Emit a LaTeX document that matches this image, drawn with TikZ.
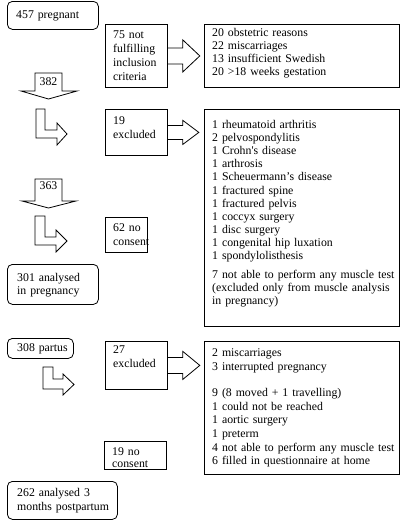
\documentclass[tikz,border=0pt]{standalone}
\usepackage{fontspec}
\setmainfont{Liberation Serif}
\usetikzlibrary{calc}
\begin{document}
\begin{tikzpicture}[x=1pt,y=-1pt,
  box/.style={draw, line width=0.8pt, rectangle, inner sep=0pt, anchor=north west},
  rbox/.style={box, rounded corners=5pt},
  txt/.style={inner sep=0pt, anchor=base west, align=left, text width=#1,
    font=\fontsize{11.8}{14}\selectfont},
  txt/.default=60pt,
  arr/.style={draw, line width=0.8pt, line join=miter}]
\useasboundingbox (0,0) rectangle (418,520);
% boxes
\node[rbox, minimum width=91pt, minimum height=28pt] (b457) at (7,1) {};
\node[box, minimum width=62pt, minimum height=63pt] (b75) at (105,24) {};
\node[box, minimum width=195pt, minimum height=63pt] (l1) at (204,24) {};
\node[box, minimum width=62pt, minimum height=46pt] (b19) at (105,109) {};
\node[box, minimum width=195pt, minimum height=217pt] (l2) at (204,109) {};
\node[box, minimum width=42pt, minimum height=35pt] (b62) at (105,217) {};
\node[rbox, minimum width=91pt, minimum height=40pt] (b301) at (7,264) {};
\node[rbox, minimum width=66pt, minimum height=20pt] (b308) at (7,338) {};
\node[box, minimum width=62pt, minimum height=48pt] (b27) at (105,341) {};
\node[box, minimum width=195pt, minimum height=133pt] (l3) at (204,341) {};
\node[box, minimum width=62pt, minimum height=28pt] (b19n) at (104,441) {};
\node[rbox, minimum width=110pt, minimum height=38pt] (b262) at (7,481) {};
% texts
\node[txt=80pt] (t457) at (16,18.5) {457 pregnant};
\node[txt] (t75) at (113,38.5) {75 not\\fulfilling\\inclusion\\criteria};
\node[txt=190pt, font=\fontsize{11.8}{13}\selectfont] (tl1) at (212,36.5) {20 obstetric reasons\\22 miscarriages\\13 insufficient Swedish\\20 >18 weeks gestation};
\node[txt] (t19) at (113,124.5) {19\\excluded};
\node[txt=190pt, font=\fontsize{11.8}{13.1}\selectfont] (tl2) at (212,128.5) {1 rheumatoid arthritis\\2 pelvospondylitis\\1 Crohn\textquotesingle s disease\\1 arthrosis\\1 Scheuermann’s disease\\1 fractured spine\\1 fractured pelvis\\1 coccyx surgery\\1 disc surgery\\1 congenital hip luxation\\1 spondylolisthesis\\[6pt]7 not able to perform any muscle test\\(excluded only from muscle analysis\\in pregnancy)};
\node[txt] (t62) at (113,231.5) {62 no\\consent};
\node[txt=85pt, font=\fontsize{11.8}{13}\selectfont] (t301) at (17,281.5) {301 analysed\\in pregnancy};
\node[txt] (t308) at (17,351.5) {308 partus};
\node[txt] (t27) at (113,353.5) {27\\excluded};
\node[txt=190pt, font=\fontsize{11.8}{13.6}\selectfont] (tl3) at (212,356.5) {2 miscarriages\\3 interrupted pregnancy\\[13pt]9 (8 moved + 1 travelling)\\1 could not be reached\\1 aortic surgery\\1 preterm\\4 not able to perform any muscle test\\6 filled in questionnaire at home};
\node[txt, font=\fontsize{11.8}{12}\selectfont] (t19n) at (112,455) {19 no\\consent};
\node[txt=105pt] (t262) at (17,496.5) {262 analysed 3\\months postpartum};
% down arrows
\draw[arr] (35,73) -- (62,73) -- (62,91) -- (77,91) -- (48.5,99) -- (21,91) -- (35,91) -- cycle;
\node[inner sep=0pt, font=\fontsize{11.8}{13}\selectfont] (n382) at (48.5,81.5) {382};
\draw[arr] (35,179) -- (62,179) -- (62,201) -- (76,201) -- (48.5,208) -- (22,201) -- (35,201) -- cycle;
\node[inner sep=0pt, font=\fontsize{11.8}{13}\selectfont] (n363) at (48.5,186) {363};
% L arrows
\draw[arr] (36,109) -- (36,138) -- (57,138) -- (57,145) -- (67,134) -- (57,123) -- (57,130) -- (45,130) -- (45,109) -- cycle;
\draw[arr] (35,216) -- (35,245) -- (56,245) -- (56,252) -- (67,241) -- (56,230) -- (56,237) -- (45,237) -- (45,216) -- cycle;
\draw[arr] (43,367) -- (43,389) -- (63,389) -- (63,395) -- (74,384.5) -- (63,374) -- (63,379) -- (53,379) -- (53,367) -- cycle;
% right arrows
\draw[arr] ($(b75.east)+(0,-8)$) -- ++(15,0) -- ++(0,-8) -- ++(17,16) -- ++(-17,16) -- ++(0,-8) -- ++(-15,0);
\draw[arr] ($(b19.east)+(0,-7)$) -- ++(15,0) -- ++(0,-5) -- ++(16,12) -- ++(-16,12) -- ++(0,-5) -- ++(-15,0);
\draw[arr] ($(b27.east)+(0,-8)$) -- ++(15,0) -- ++(0,-6) -- ++(17,14) -- ++(-17,14) -- ++(0,-6) -- ++(-15,0);
\end{tikzpicture}
\end{document}
